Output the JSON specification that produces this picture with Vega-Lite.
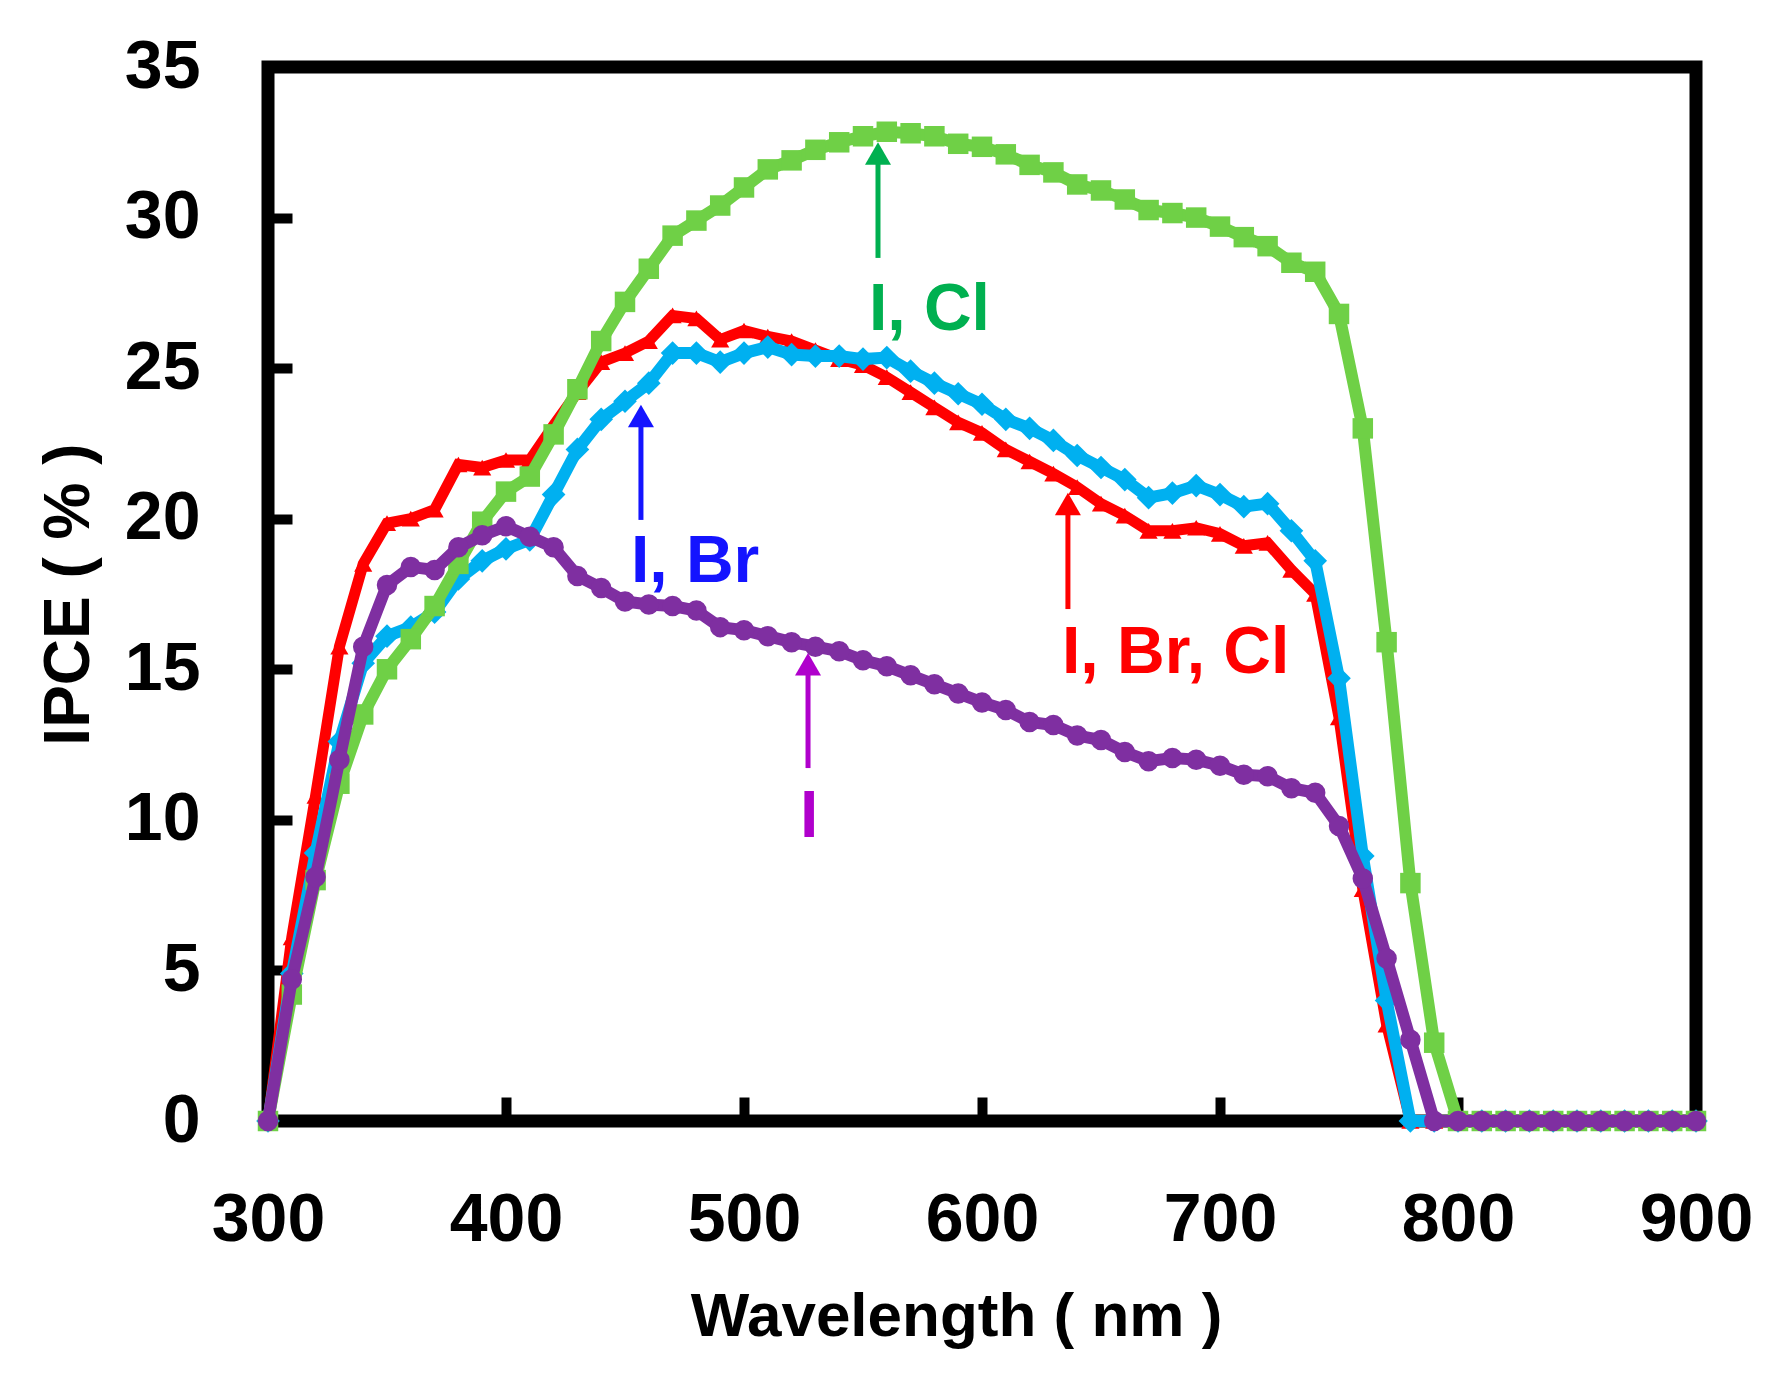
{
  "$schema": "https://vega.github.io/schema/vega-lite/v6.json",
  "description": "IPCE spectra of four perovskite halide compositions",
  "autosize": {"type": "none"},
  "padding": {"left": 268, "top": 67, "right": 74, "bottom": 262},
  "width": 1428,
  "height": 1054,
  "background": "white",
  "datasets": {
    "ipce": [
      {"series": "I, Br, Cl", "nm": 300, "v": 0}, {"series": "I, Br, Cl", "nm": 310, "v": 6.1}, {"series": "I, Br, Cl", "nm": 320, "v": 10.8},
      {"series": "I, Br, Cl", "nm": 330, "v": 15.75}, {"series": "I, Br, Cl", "nm": 340, "v": 18.5}, {"series": "I, Br, Cl", "nm": 350, "v": 19.85},
      {"series": "I, Br, Cl", "nm": 360, "v": 20.0}, {"series": "I, Br, Cl", "nm": 370, "v": 20.3}, {"series": "I, Br, Cl", "nm": 380, "v": 21.8},
      {"series": "I, Br, Cl", "nm": 390, "v": 21.7}, {"series": "I, Br, Cl", "nm": 400, "v": 21.95}, {"series": "I, Br, Cl", "nm": 410, "v": 21.95},
      {"series": "I, Br, Cl", "nm": 420, "v": 23.1}, {"series": "I, Br, Cl", "nm": 430, "v": 24.2}, {"series": "I, Br, Cl", "nm": 440, "v": 25.2},
      {"series": "I, Br, Cl", "nm": 450, "v": 25.5}, {"series": "I, Br, Cl", "nm": 460, "v": 25.9}, {"series": "I, Br, Cl", "nm": 470, "v": 26.75},
      {"series": "I, Br, Cl", "nm": 480, "v": 26.65}, {"series": "I, Br, Cl", "nm": 490, "v": 25.95}, {"series": "I, Br, Cl", "nm": 500, "v": 26.25},
      {"series": "I, Br, Cl", "nm": 510, "v": 26.05}, {"series": "I, Br, Cl", "nm": 520, "v": 25.9}, {"series": "I, Br, Cl", "nm": 530, "v": 25.6},
      {"series": "I, Br, Cl", "nm": 540, "v": 25.3}, {"series": "I, Br, Cl", "nm": 550, "v": 25.1}, {"series": "I, Br, Cl", "nm": 560, "v": 24.7},
      {"series": "I, Br, Cl", "nm": 570, "v": 24.2}, {"series": "I, Br, Cl", "nm": 580, "v": 23.7}, {"series": "I, Br, Cl", "nm": 590, "v": 23.2},
      {"series": "I, Br, Cl", "nm": 600, "v": 22.85}, {"series": "I, Br, Cl", "nm": 610, "v": 22.3}, {"series": "I, Br, Cl", "nm": 620, "v": 21.9},
      {"series": "I, Br, Cl", "nm": 630, "v": 21.5}, {"series": "I, Br, Cl", "nm": 640, "v": 21.05}, {"series": "I, Br, Cl", "nm": 650, "v": 20.5},
      {"series": "I, Br, Cl", "nm": 660, "v": 20.1}, {"series": "I, Br, Cl", "nm": 670, "v": 19.6}, {"series": "I, Br, Cl", "nm": 680, "v": 19.6},
      {"series": "I, Br, Cl", "nm": 690, "v": 19.7}, {"series": "I, Br, Cl", "nm": 700, "v": 19.5}, {"series": "I, Br, Cl", "nm": 710, "v": 19.1},
      {"series": "I, Br, Cl", "nm": 720, "v": 19.2}, {"series": "I, Br, Cl", "nm": 730, "v": 18.3}, {"series": "I, Br, Cl", "nm": 740, "v": 17.5},
      {"series": "I, Br, Cl", "nm": 750, "v": 13.4}, {"series": "I, Br, Cl", "nm": 760, "v": 7.7}, {"series": "I, Br, Cl", "nm": 770, "v": 3.2},
      {"series": "I, Br, Cl", "nm": 780, "v": 0}, {"series": "I, Br, Cl", "nm": 790, "v": 0}, {"series": "I, Br, Cl", "nm": 800, "v": 0},
      {"series": "I, Br, Cl", "nm": 810, "v": 0}, {"series": "I, Br, Cl", "nm": 820, "v": 0}, {"series": "I, Br, Cl", "nm": 830, "v": 0},
      {"series": "I, Br, Cl", "nm": 840, "v": 0}, {"series": "I, Br, Cl", "nm": 850, "v": 0}, {"series": "I, Br, Cl", "nm": 860, "v": 0},
      {"series": "I, Br, Cl", "nm": 870, "v": 0}, {"series": "I, Br, Cl", "nm": 880, "v": 0}, {"series": "I, Br, Cl", "nm": 890, "v": 0},
      {"series": "I, Br, Cl", "nm": 900, "v": 0},

      {"series": "I, Br", "nm": 300, "v": 0}, {"series": "I, Br", "nm": 310, "v": 4.9}, {"series": "I, Br", "nm": 320, "v": 8.9},
      {"series": "I, Br", "nm": 330, "v": 12.6}, {"series": "I, Br", "nm": 340, "v": 15.2}, {"series": "I, Br", "nm": 350, "v": 16.1},
      {"series": "I, Br", "nm": 360, "v": 16.4}, {"series": "I, Br", "nm": 370, "v": 16.9}, {"series": "I, Br", "nm": 380, "v": 18.0},
      {"series": "I, Br", "nm": 390, "v": 18.6}, {"series": "I, Br", "nm": 400, "v": 19.0}, {"series": "I, Br", "nm": 410, "v": 19.3},
      {"series": "I, Br", "nm": 420, "v": 20.8}, {"series": "I, Br", "nm": 430, "v": 22.3}, {"series": "I, Br", "nm": 440, "v": 23.3},
      {"series": "I, Br", "nm": 450, "v": 23.9}, {"series": "I, Br", "nm": 460, "v": 24.5}, {"series": "I, Br", "nm": 470, "v": 25.5},
      {"series": "I, Br", "nm": 480, "v": 25.5}, {"series": "I, Br", "nm": 490, "v": 25.2}, {"series": "I, Br", "nm": 500, "v": 25.5},
      {"series": "I, Br", "nm": 510, "v": 25.7}, {"series": "I, Br", "nm": 520, "v": 25.45}, {"series": "I, Br", "nm": 530, "v": 25.4},
      {"series": "I, Br", "nm": 540, "v": 25.4}, {"series": "I, Br", "nm": 550, "v": 25.3}, {"series": "I, Br", "nm": 560, "v": 25.35},
      {"series": "I, Br", "nm": 570, "v": 24.9}, {"series": "I, Br", "nm": 580, "v": 24.5}, {"series": "I, Br", "nm": 590, "v": 24.15},
      {"series": "I, Br", "nm": 600, "v": 23.8}, {"series": "I, Br", "nm": 610, "v": 23.3}, {"series": "I, Br", "nm": 620, "v": 23.0},
      {"series": "I, Br", "nm": 630, "v": 22.6}, {"series": "I, Br", "nm": 640, "v": 22.1}, {"series": "I, Br", "nm": 650, "v": 21.7},
      {"series": "I, Br", "nm": 660, "v": 21.3}, {"series": "I, Br", "nm": 670, "v": 20.7}, {"series": "I, Br", "nm": 680, "v": 20.85},
      {"series": "I, Br", "nm": 690, "v": 21.1}, {"series": "I, Br", "nm": 700, "v": 20.8}, {"series": "I, Br", "nm": 710, "v": 20.4},
      {"series": "I, Br", "nm": 720, "v": 20.5}, {"series": "I, Br", "nm": 730, "v": 19.6}, {"series": "I, Br", "nm": 740, "v": 18.6},
      {"series": "I, Br", "nm": 750, "v": 14.7}, {"series": "I, Br", "nm": 760, "v": 8.8}, {"series": "I, Br", "nm": 770, "v": 4.0},
      {"series": "I, Br", "nm": 780, "v": 0}, {"series": "I, Br", "nm": 790, "v": 0}, {"series": "I, Br", "nm": 800, "v": 0},
      {"series": "I, Br", "nm": 810, "v": 0}, {"series": "I, Br", "nm": 820, "v": 0}, {"series": "I, Br", "nm": 830, "v": 0},
      {"series": "I, Br", "nm": 840, "v": 0}, {"series": "I, Br", "nm": 850, "v": 0}, {"series": "I, Br", "nm": 860, "v": 0},
      {"series": "I, Br", "nm": 870, "v": 0}, {"series": "I, Br", "nm": 880, "v": 0}, {"series": "I, Br", "nm": 890, "v": 0},
      {"series": "I, Br", "nm": 900, "v": 0},

      {"series": "I, Cl", "nm": 300, "v": 0}, {"series": "I, Cl", "nm": 310, "v": 4.2}, {"series": "I, Cl", "nm": 320, "v": 8.0},
      {"series": "I, Cl", "nm": 330, "v": 11.2}, {"series": "I, Cl", "nm": 340, "v": 13.5}, {"series": "I, Cl", "nm": 350, "v": 15.0},
      {"series": "I, Cl", "nm": 360, "v": 16.0}, {"series": "I, Cl", "nm": 370, "v": 17.1}, {"series": "I, Cl", "nm": 380, "v": 18.5},
      {"series": "I, Cl", "nm": 390, "v": 19.9}, {"series": "I, Cl", "nm": 400, "v": 20.9}, {"series": "I, Cl", "nm": 410, "v": 21.4},
      {"series": "I, Cl", "nm": 420, "v": 22.8}, {"series": "I, Cl", "nm": 430, "v": 24.3}, {"series": "I, Cl", "nm": 440, "v": 25.9},
      {"series": "I, Cl", "nm": 450, "v": 27.2}, {"series": "I, Cl", "nm": 460, "v": 28.3}, {"series": "I, Cl", "nm": 470, "v": 29.4},
      {"series": "I, Cl", "nm": 480, "v": 29.9}, {"series": "I, Cl", "nm": 490, "v": 30.4}, {"series": "I, Cl", "nm": 500, "v": 31.0},
      {"series": "I, Cl", "nm": 510, "v": 31.6}, {"series": "I, Cl", "nm": 520, "v": 31.9}, {"series": "I, Cl", "nm": 530, "v": 32.25},
      {"series": "I, Cl", "nm": 540, "v": 32.5}, {"series": "I, Cl", "nm": 550, "v": 32.7}, {"series": "I, Cl", "nm": 560, "v": 32.85},
      {"series": "I, Cl", "nm": 570, "v": 32.8}, {"series": "I, Cl", "nm": 580, "v": 32.7}, {"series": "I, Cl", "nm": 590, "v": 32.45},
      {"series": "I, Cl", "nm": 600, "v": 32.35}, {"series": "I, Cl", "nm": 610, "v": 32.1}, {"series": "I, Cl", "nm": 620, "v": 31.75},
      {"series": "I, Cl", "nm": 630, "v": 31.5}, {"series": "I, Cl", "nm": 640, "v": 31.1}, {"series": "I, Cl", "nm": 650, "v": 30.9},
      {"series": "I, Cl", "nm": 660, "v": 30.6}, {"series": "I, Cl", "nm": 670, "v": 30.25}, {"series": "I, Cl", "nm": 680, "v": 30.15},
      {"series": "I, Cl", "nm": 690, "v": 30.0}, {"series": "I, Cl", "nm": 700, "v": 29.7}, {"series": "I, Cl", "nm": 710, "v": 29.35},
      {"series": "I, Cl", "nm": 720, "v": 29.05}, {"series": "I, Cl", "nm": 730, "v": 28.5}, {"series": "I, Cl", "nm": 740, "v": 28.2},
      {"series": "I, Cl", "nm": 750, "v": 26.8}, {"series": "I, Cl", "nm": 760, "v": 23.0}, {"series": "I, Cl", "nm": 770, "v": 15.9},
      {"series": "I, Cl", "nm": 780, "v": 7.9}, {"series": "I, Cl", "nm": 790, "v": 2.6}, {"series": "I, Cl", "nm": 800, "v": 0},
      {"series": "I, Cl", "nm": 810, "v": 0}, {"series": "I, Cl", "nm": 820, "v": 0}, {"series": "I, Cl", "nm": 830, "v": 0},
      {"series": "I, Cl", "nm": 840, "v": 0}, {"series": "I, Cl", "nm": 850, "v": 0}, {"series": "I, Cl", "nm": 860, "v": 0},
      {"series": "I, Cl", "nm": 870, "v": 0}, {"series": "I, Cl", "nm": 880, "v": 0}, {"series": "I, Cl", "nm": 890, "v": 0},
      {"series": "I, Cl", "nm": 900, "v": 0},

      {"series": "I", "nm": 300, "v": 0}, {"series": "I", "nm": 310, "v": 4.7}, {"series": "I", "nm": 320, "v": 8.1},
      {"series": "I", "nm": 330, "v": 12.0}, {"series": "I", "nm": 340, "v": 15.75}, {"series": "I", "nm": 350, "v": 17.8},
      {"series": "I", "nm": 360, "v": 18.4}, {"series": "I", "nm": 370, "v": 18.3}, {"series": "I", "nm": 380, "v": 19.05},
      {"series": "I", "nm": 390, "v": 19.45}, {"series": "I", "nm": 400, "v": 19.75}, {"series": "I", "nm": 410, "v": 19.4},
      {"series": "I", "nm": 420, "v": 19.05}, {"series": "I", "nm": 430, "v": 18.1}, {"series": "I", "nm": 440, "v": 17.7},
      {"series": "I", "nm": 450, "v": 17.25}, {"series": "I", "nm": 460, "v": 17.15}, {"series": "I", "nm": 470, "v": 17.1},
      {"series": "I", "nm": 480, "v": 16.95}, {"series": "I", "nm": 490, "v": 16.4}, {"series": "I", "nm": 500, "v": 16.3},
      {"series": "I", "nm": 510, "v": 16.1}, {"series": "I", "nm": 520, "v": 15.9}, {"series": "I", "nm": 530, "v": 15.75},
      {"series": "I", "nm": 540, "v": 15.6}, {"series": "I", "nm": 550, "v": 15.3}, {"series": "I", "nm": 560, "v": 15.1},
      {"series": "I", "nm": 570, "v": 14.8}, {"series": "I", "nm": 580, "v": 14.5}, {"series": "I", "nm": 590, "v": 14.2},
      {"series": "I", "nm": 600, "v": 13.9}, {"series": "I", "nm": 610, "v": 13.65}, {"series": "I", "nm": 620, "v": 13.25},
      {"series": "I", "nm": 630, "v": 13.15}, {"series": "I", "nm": 640, "v": 12.8}, {"series": "I", "nm": 650, "v": 12.65},
      {"series": "I", "nm": 660, "v": 12.25}, {"series": "I", "nm": 670, "v": 11.95}, {"series": "I", "nm": 680, "v": 12.05},
      {"series": "I", "nm": 690, "v": 12.0}, {"series": "I", "nm": 700, "v": 11.8}, {"series": "I", "nm": 710, "v": 11.5},
      {"series": "I", "nm": 720, "v": 11.45}, {"series": "I", "nm": 730, "v": 11.05}, {"series": "I", "nm": 740, "v": 10.9},
      {"series": "I", "nm": 750, "v": 9.8}, {"series": "I", "nm": 760, "v": 8.05}, {"series": "I", "nm": 770, "v": 5.4},
      {"series": "I", "nm": 780, "v": 2.7}, {"series": "I", "nm": 790, "v": 0}, {"series": "I", "nm": 800, "v": 0},
      {"series": "I", "nm": 810, "v": 0}, {"series": "I", "nm": 820, "v": 0}, {"series": "I", "nm": 830, "v": 0},
      {"series": "I", "nm": 840, "v": 0}, {"series": "I", "nm": 850, "v": 0}, {"series": "I", "nm": 860, "v": 0},
      {"series": "I", "nm": 870, "v": 0}, {"series": "I", "nm": 880, "v": 0}, {"series": "I", "nm": 890, "v": 0},
      {"series": "I", "nm": 900, "v": 0}
    ],
    "notes": [
      {"label": "I, Cl", "ax": 556.3, "abot": 28.66, "atop": 31.9, "head": 32.13, "tx": 552.5, "ty": 26.27},
      {"label": "I, Br", "ax": 456.7, "abot": 19.96, "atop": 23.2, "head": 23.41, "tx": 452.5, "ty": 17.91},
      {"label": "I, Br, Cl", "ax": 636.1, "abot": 17.0, "atop": 20.3, "head": 20.49, "tx": 633.6, "ty": 14.88},
      {"label": "I", "ax": 526.9, "abot": 11.72, "atop": 15.0, "head": 15.17, "tx": 523.5, "ty": 9.43}
    ]
  },
  "encoding": {
    "x": {
      "field": "nm",
      "type": "quantitative",
      "scale": {"domain": [300, 900], "nice": false, "zero": false},
      "axis": {
        "title": "Wavelength ( nm )",
        "values": [300, 400, 500, 600, 700, 800, 900],
        "titleX": 688,
        "titleY": 214,
        "titleAlign": "center",
        "titleBaseline": "alphabetic",
        "titleFont": "Liberation Sans",
        "titleFontSize": 62,
        "labelBaseline": "alphabetic",
        "labelPadding": 143
      }
    },
    "y": {
      "field": "v",
      "type": "quantitative",
      "scale": {"domain": [0, 35], "nice": false},
      "axis": {
        "title": "IPCE ( % )",
        "values": [0, 5, 10, 15, 20, 25, 30, 35],
        "titleX": -180,
        "titleY": 527,
        "titleAngle": 270,
        "titleAlign": "center",
        "titleBaseline": "alphabetic",
        "titleFont": "Liberation Sans",
        "titleFontSize": 64,
        "labelPadding": 92
      }
    }
  },
  "layer": [
    {
      "data": {"name": "ipce"},
      "transform": [{"filter": "datum.series === 'I, Br, Cl'"}],
      "mark": {"type": "line", "color": "#FF0000", "strokeWidth": 11,
               "point": {"shape": "triangle-up", "size": 330, "filled": true, "color": "#FF0000", "opacity": 1}}
    },
    {
      "data": {"name": "ipce"},
      "transform": [{"filter": "datum.series === 'I, Br'"}],
      "mark": {"type": "line", "color": "#00B0F0", "strokeWidth": 12,
               "point": {"shape": "diamond", "size": 560, "filled": true, "color": "#00B0F0", "opacity": 1}}
    },
    {
      "data": {"name": "ipce"},
      "transform": [{"filter": "datum.series === 'I, Cl'"}],
      "mark": {"type": "line", "color": "#6FD046", "strokeWidth": 12,
               "point": {"shape": "square", "size": 420, "filled": true, "color": "#6FD046", "opacity": 1}}
    },
    {
      "data": {"name": "ipce"},
      "transform": [{"filter": "datum.series === 'I'"}],
      "mark": {"type": "line", "color": "#7F2FA1", "strokeWidth": 12,
               "point": {"shape": "circle", "size": 420, "filled": true, "color": "#7F2FA1", "opacity": 1}}
    },
    {
      "data": {"name": "notes"},
      "mark": {"type": "rule", "strokeWidth": 5},
      "encoding": {
        "x": {"field": "ax", "type": "quantitative"},
        "y": {"field": "abot", "type": "quantitative"},
        "y2": {"field": "atop"},
        "color": {"field": "label", "type": "nominal", "legend": null,
                  "scale": {"domain": ["I, Cl", "I, Br", "I, Br, Cl", "I"], "range": ["#00B050", "#1414FF", "#FF0000", "#B000CC"]}}
      }
    },
    {
      "data": {"name": "notes"},
      "mark": {"type": "point", "shape": "triangle-up", "size": 676, "filled": true, "opacity": 1},
      "encoding": {
        "x": {"field": "ax", "type": "quantitative"},
        "y": {"field": "head", "type": "quantitative"},
        "color": {"field": "label", "type": "nominal", "legend": null}
      }
    },
    {
      "data": {"name": "notes"},
      "mark": {"type": "text", "align": "left", "baseline": "alphabetic", "font": "Liberation Sans", "fontSize": 66, "fontWeight": "bold"},
      "encoding": {
        "x": {"field": "tx", "type": "quantitative"},
        "y": {"field": "ty", "type": "quantitative"},
        "text": {"field": "label"},
        "color": {"field": "label", "type": "nominal", "legend": null}
      }
    }
  ],
  "config": {
    "view": {"stroke": "black", "strokeWidth": 13},
    "axis": {
      "domain": false,
      "grid": false,
      "ticks": true,
      "tickSize": -24,
      "tickWidth": 10,
      "tickColor": "black",
      "labelFont": "Liberation Sans",
      "labelFontWeight": "bold",
      "labelFontSize": 68,
      "labelColor": "black",
      "labelFlush": false,
      "labelOverlap": false,
      "titleFontWeight": "bold",
      "titleColor": "black"
    }
  }
}
